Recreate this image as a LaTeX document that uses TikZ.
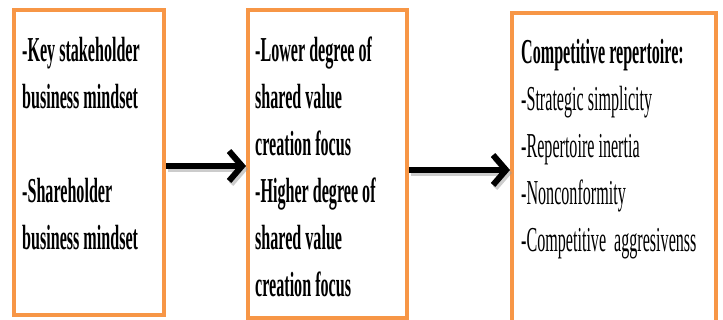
\documentclass[tikz,border=0pt]{standalone}
\usepackage{fontspec}
\setmainfont[FakeStretch=0.46]{Liberation Serif}
\usepackage{tikz}
\usetikzlibrary{arrows.meta}
\definecolor{boxorange}{RGB}{247,150,70}
\tikzset{stage/.style={draw=boxorange, line width=4pt, fill=white, inner sep=0pt},
         items/.style={anchor=north west, inner sep=0pt, align=left,
                       font=\fontsize{35}{47}\selectfont},
         flow/.style={line width=6pt, -{Straight Barb[length=13pt,width=30pt]}},
         flowshade/.style={flow, black!40, opacity=0.5,
                           transform canvas={shift={(2pt,-3pt)}}}}

\begin{document}
\begin{tikzpicture}[x=1pt,y=1pt]
\useasboundingbox (0,0) rectangle (723,320);

% the three boxes
\node [stage, minimum width=150, minimum height=305] (mindset) at (89,157.5) {};
\node [stage, minimum width=159, minimum height=308] (focus) at (327.5,156) {};
\node [stage, minimum width=204, minimum height=317] (repertoire) at (614,148.5) {};

\node [items, font=\fontsize{35}{47}\selectfont\bfseries] (mindsettext)
  at ([xshift=10,yshift=-29]mindset.north west)
  {-Key stakeholder\\business mindset\\[47pt]-Shareholder\\business mindset};
\node [items, font=\fontsize{35}{47}\selectfont\bfseries] (focustext)
  at ([xshift=9,yshift=-29]focus.north west)
  {-Lower degree of\\shared value\\creation focus\\-Higher degree of\\shared value\\creation focus};
\node [items] (repertoiretext)
  at ([xshift=11,yshift=-28]repertoire.north west)
  {\textbf{Competitive repertoire:}\\-Strategic simplicity\\-Repertoire inertia\\-Nonconformity\\-Competitive\ \ aggresivenss};

% arrows with a soft shade
\draw [flowshade] ([yshift=-3.5]mindset.east) -- ([yshift=-2]focus.west);
\draw [flowshade] ([yshift=-6]focus.east) -- ([yshift=1.5]repertoire.west);
\draw [flow] ([yshift=-3.5]mindset.east) -- ([yshift=-2]focus.west);
\draw [flow] ([yshift=-6]focus.east) -- ([yshift=1.5]repertoire.west);

\end{tikzpicture}
\end{document}
